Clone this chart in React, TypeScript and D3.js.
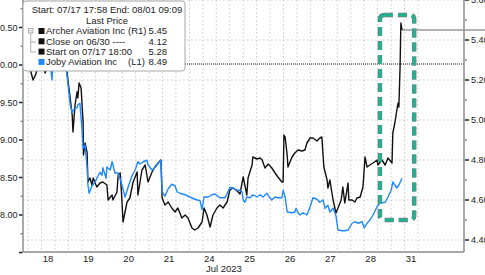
import React from "react";
import * as d3 from "d3";

// ---- data ----
const dayLabels = ["18", "19", "20", "21", "24", "25", "26", "27", "28", "31"];
const dayLabelPos = [0, 1, 2, 3, 4, 5, 6, 7, 8, 9];
const monthLabel = "Jul 2023";
const monthLabelPos = 4.36;

const leftTicks = [8.0, 8.5, 9.0, 9.5, 10.0, 10.5];
const leftMinor = [7.75, 8.25, 8.75, 9.25, 9.75, 10.25, 10.75];
const rightTicks = [4.4, 4.6, 4.8, 5.0, 5.2, 5.4, 5.6];
const rightMinor = [4.5, 4.7, 4.9, 5.1, 5.3, 5.5];

// Archer Aviation (R1) - x in trading-day position, price in USD
const archerDay = [
  -0.52, -0.45, -0.37, -0.3, -0.25, -0.15, -0.07, 0.0, 0.17, 0.25, 0.35, 0.47, 0.55, 0.6, 0.62, 0.67,
  0.72, 0.74, 0.77, 0.82, 0.87, 0.88, 0.92, 0.97, 0.99, 1.04, 1.09, 1.12, 1.21, 1.29, 1.36, 1.46, 1.49,
  1.59, 1.61, 1.71, 1.74, 1.79, 1.83, 1.86, 1.96, 2.03, 2.11, 2.21, 2.23, 2.33, 2.41, 2.48, 2.58, 2.65,
  2.73, 2.8, 2.83, 2.9, 2.98, 3.07, 3.15, 3.22, 3.32, 3.4, 3.47, 3.57, 3.64, 3.72, 3.82, 3.87, 3.94,
  4.02, 4.09, 4.19, 4.26, 4.34, 4.44, 4.51, 4.59, 4.69, 4.76, 4.84, 4.93, 4.96, 5.06, 5.08, 5.18, 5.26,
  5.31, 5.38, 5.46, 5.55, 5.63, 5.7, 5.8, 5.83, 5.85, 5.88, 5.93, 5.95, 6.05, 6.12, 6.2, 6.3, 6.37,
  6.42, 6.5, 6.57, 6.67, 6.74, 6.79, 6.84, 6.92, 6.94, 6.99, 7.04, 7.07, 7.14, 7.19, 7.27, 7.31, 7.36,
  7.44, 7.46, 7.54, 7.61, 7.66, 7.74, 7.81, 7.86, 7.91, 7.98, 8.06, 8.16, 8.18, 8.28, 8.36, 8.43, 8.53,
  8.55, 8.6, 8.65, 8.68, 8.7, 8.73, 8.75, 8.78,
];
const archerPrice = [
  5.28, 5.26, 5.2, 5.23, 5.27, 5.29, 5.235, 5.28, 5.29, 5.25, 5.28, 5.24, 5.11, 5.025, 4.94, 5.075,
  5.14, 5.11, 5.185, 5.16, 4.99, 4.825, 4.885, 4.835, 4.69, 4.71, 4.675, 4.71, 4.665, 4.685, 4.69, 4.675,
  4.6, 4.625, 4.6, 4.64, 4.725, 4.735, 4.61, 4.49, 4.59, 4.61, 4.69, 4.74, 4.625, 4.75, 4.775, 4.69,
  4.74, 4.765, 4.785, 4.8, 4.61, 4.575, 4.59, 4.56, 4.54, 4.56, 4.51, 4.525, 4.51, 4.46, 4.45, 4.46,
  4.49, 4.56, 4.525, 4.465, 4.525, 4.56, 4.575, 4.56, 4.59, 4.65, 4.66, 4.645, 4.63, 4.715, 4.625, 4.71,
  4.775, 4.815, 4.805, 4.81, 4.8, 4.76, 4.78, 4.76, 4.735, 4.715, 4.69, 4.69, 4.925, 4.915, 4.825, 4.765,
  4.815, 4.835, 4.85, 4.845, 4.85, 4.885, 4.91, 4.91, 4.895, 4.91, 4.915, 4.765, 4.7, 4.66, 4.7, 4.635,
  4.6, 4.535, 4.56, 4.6, 4.665, 4.585, 4.685, 4.6, 4.6, 4.59, 4.61, 4.615, 4.665, 4.815, 4.765, 4.775,
  4.785, 4.8, 4.775, 4.8, 4.775, 4.81, 4.785, 4.935, 4.985, 5.05, 5.085, 5.065, 5.265, 5.485, 5.45,
];

// Joby Aviation (L1)
const jobyDay = [
  -0.52, -0.32, -0.15, 0.05, 0.1, 0.12, 0.3, 0.42, 0.47, 0.55, 0.6, 0.62, 0.72, 0.74, 0.79, 0.84, 0.87,
  0.92, 0.97, 0.99, 1.02, 1.09, 1.17, 1.21, 1.29, 1.34, 1.36, 1.44, 1.46, 1.54, 1.59, 1.61, 1.66, 1.74,
  1.83, 1.91, 1.98, 2.08, 2.16, 2.23, 2.28, 2.36, 2.45, 2.48, 2.58, 2.65, 2.73, 2.8, 2.83, 2.9, 2.98,
  3.07, 3.15, 3.2, 3.27, 3.4, 3.52, 3.64, 3.77, 3.82, 3.87, 3.97, 4.07, 4.14, 4.26, 4.39, 4.46, 4.51,
  4.59, 4.69, 4.76, 4.81, 4.84, 4.88, 4.93, 5.01, 5.08, 5.18, 5.26, 5.33, 5.43, 5.5, 5.55, 5.63, 5.7,
  5.8, 5.83, 5.88, 5.93, 6.05, 6.12, 6.15, 6.2, 6.25, 6.32, 6.42, 6.5, 6.57, 6.67, 6.74, 6.82, 6.87,
  6.94, 6.99, 7.07, 7.14, 7.19, 7.29, 7.36, 7.44, 7.54, 7.61, 7.69, 7.79, 7.84, 7.91, 7.98, 8.06, 8.16,
  8.23, 8.36, 8.43, 8.51, 8.55, 8.6, 8.65, 8.7, 8.78,
];
const jobyPrice = [
  10.04, 10.067, 10.04, 10.03, 9.8, 10.01, 10.04, 10.03, 9.87, 9.47, 9.36, 9.4, 9.43, 9.47, 9.49, 9.17,
  8.89, 8.93, 8.63, 8.4, 8.29, 8.39, 8.44, 8.49, 8.57, 8.53, 8.63, 8.49, 8.64, 8.6, 8.71, 8.67, 8.56,
  8.56, 8.41, 8.24, 8.36, 8.52, 8.6, 8.71, 8.68, 8.71, 8.73, 8.67, 8.6, 8.63, 8.69, 8.73, 8.31, 8.25,
  8.35, 8.41, 8.39, 8.31, 8.29, 8.27, 8.24, 8.21, 8.19, 8.07, 8.24, 8.24, 8.27, 8.28, 8.23, 8.23, 8.31,
  8.37, 8.36, 8.33, 8.33, 8.31, 8.2, 8.17, 8.24, 8.23, 8.27, 8.24, 8.27, 8.24, 8.29, 8.23, 8.2, 8.24,
  8.23, 8.23, 8.33, 8.24, 8.04, 8.03, 8.04, 8.09, 8.03, 8.0, 8.03, 8.0, 8.11, 8.23, 8.21, 8.17, 8.2,
  8.09, 8.13, 8.04, 8.09, 7.99, 7.8, 7.79, 7.79, 7.8, 7.89, 7.91, 7.89, 7.91, 7.83, 7.89, 7.93, 8.0,
  8.11, 8.16, 8.17, 8.24, 8.33, 8.44, 8.4, 8.36, 8.4, 8.49,
];

const startPrice = 5.28;
const lastPrice = 5.45;
const lastDay = 8.78;
const boxDayStart = 8.23;
const boxDayEnd = 9.08;
const boxTop = 5.525;
const boxBottom = 4.5;

const legendNames = ["Archer Aviation Inc", "Close on 06/30 ----", "Start on 07/17 18:00", "Joby Aviation Inc"];
const legendTags = ["(R1)", "", "", "(L1)"];
const legendValues = ["5.45", "4.12", "5.28", "8.49"];
const legendColors = ["#111111", "#111111", "#111111", "#1e88ff"];

// ---- layout ----
const W = 485;
const H = 275;
const L = 23;
const R = 464;
const T = 0;
const B = 252;
const FONT = "'Liberation Sans', Arial, sans-serif";

export default function App() {
  const x = d3.scaleLinear().domain([-0.62, 10.315]).range([L, R]);
  const yL = d3.scaleLinear().domain([7.5067, 10.8667]).range([B, T]);
  const yR = d3.scaleLinear().domain([4.34, 5.6]).range([B, T]);

  const archer = archerDay.map((d, i) => [d, archerPrice[i]] as [number, number]);
  const joby = jobyDay.map((d, i) => [d, jobyPrice[i]] as [number, number]);
  const archerPath = d3.line<[number, number]>().x((d) => x(d[0])).y((d) => yR(d[1]))(archer) || "";
  const jobyPath = d3.line<[number, number]>().x((d) => x(d[0])).y((d) => yL(d[1]))(joby) || "";

  const vGrid = d3.range(-1, 29).map((k) => -0.16 + k / 3);

  return (
    <svg
      width={W}
      height={H}
      style={{ position: "absolute", left: 0, top: 0, background: "#fff" }}
      fontFamily={FONT}
    >
      <rect x={0} y={0} width={W} height={H} fill="#fff" />
      <defs>
        <clipPath id="plot">
          <rect x={L} y={T} width={R - L} height={B - T} />
        </clipPath>
      </defs>
      {/* grid */}
      {vGrid.map((d, i) => (
        <line key={"vg" + i} x1={x(d)} x2={x(d)} y1={T} y2={B} stroke="#c9c9c9" strokeWidth={1} strokeDasharray="1.5,2.5" />
      ))}
      {rightTicks.map((v, i) => (
        <line key={"hg" + i} x1={L} x2={R} y1={yR(v)} y2={yR(v)} stroke="#c9c9c9" strokeWidth={1} strokeDasharray="1.5,2.5" />
      ))}
      {/* start price reference */}
      <line x1={L} x2={R} y1={yR(startPrice)} y2={yR(startPrice)} stroke="#111" strokeWidth={1} strokeDasharray="1,1" />
      {/* series */}
      <g clipPath="url(#plot)">
        <path d={archerPath} fill="none" stroke="#111" strokeWidth={1.4} strokeLinejoin="round" />
        <path d={jobyPath} fill="none" stroke="#1e88ff" strokeWidth={1.4} strokeLinejoin="round" />
      </g>
      {/* last price line */}
      <line x1={x(lastDay)} x2={W} y1={yR(lastPrice)} y2={yR(lastPrice)} stroke="#666" strokeWidth={1.2} />
      {/* axes */}
      <line x1={L} x2={L} y1={T} y2={B} stroke="#8c8c8c" strokeWidth={1.5} />
      <line x1={R} x2={R} y1={T} y2={B} stroke="#8c8c8c" strokeWidth={1.5} />
      <line x1={L} x2={R} y1={B} y2={B} stroke="#8c8c8c" strokeWidth={1.5} />
      {/* left ticks */}
      {[7.5, ...leftTicks, 11.0].map((v, i) => (
        <line key={"lt" + i} x1={19} x2={22.5} y1={yL(v)} y2={yL(v)} stroke="#222" strokeWidth={1.5} />
      ))}
      {leftMinor.map((v, i) => (
        <line key={"lm" + i} x1={20.5} x2={22.5} y1={yL(v)} y2={yL(v)} stroke="#555" strokeWidth={1} />
      ))}
      {leftTicks.map((v, i) => (
        <text key={"ll" + i} x={17.5} y={yL(v) + 3.2} fontSize={9} textAnchor="end" fill="#222">
          {v.toFixed(2)}
        </text>
      ))}
      {/* right ticks */}
      {rightTicks.map((v, i) => (
        <line key={"rt" + i} x1={465} x2={469} y1={yR(v)} y2={yR(v)} stroke="#222" strokeWidth={1.5} />
      ))}
      {rightMinor.map((v, i) => (
        <line key={"rm" + i} x1={465} x2={467} y1={yR(v)} y2={yR(v)} stroke="#555" strokeWidth={1} />
      ))}
      {rightTicks.map((v, i) => (
        <text key={"rl" + i} x={471} y={yR(v) + 3.2} fontSize={9} fill="#222">
          {v.toFixed(2)}
        </text>
      ))}
      {/* x labels */}
      {dayLabels.map((lab, i) => (
        <text key={"xl" + i} x={x(dayLabelPos[i])} y={262} fontSize={9.5} textAnchor="middle" fill="#222">
          {lab}
        </text>
      ))}
      <text x={x(monthLabelPos)} y={272} fontSize={9.5} textAnchor="middle" fill="#222">
        {monthLabel}
      </text>
      {/* highlight box */}
      <rect
        x={x(boxDayStart)}
        y={yR(boxTop)}
        width={x(boxDayEnd) - x(boxDayStart)}
        height={yR(boxBottom) - yR(boxTop)}
        rx={4}
        fill="none"
        stroke="#7a7a7a"
        strokeWidth={4.5}
        strokeDasharray="9,5"
      />
      <rect
        x={x(boxDayStart)}
        y={yR(boxTop)}
        width={x(boxDayEnd) - x(boxDayStart)}
        height={yR(boxBottom) - yR(boxTop)}
        rx={4}
        fill="none"
        stroke="#1fb394"
        strokeWidth={3.2}
        strokeDasharray="9,5"
      />
      {/* legend */}
      <rect x={23} y={1} width={162} height={70} rx={3} fill="#fff" stroke="#a8a8a8" strokeWidth={1} />
      <text x={107} y={13} fontSize={9.5} textAnchor="middle" fill="#222">
        Start: 07/17 17:58 End: 08/01 09:09
      </text>
      <text x={107} y={23.5} fontSize={9.5} textAnchor="middle" fill="#222">
        Last Price
      </text>
      <rect x={28.5} y={28.5} width={4.5} height={4.5} fill="#fff" stroke="#999" strokeWidth={0.8} />
      <line x1={29.5} x2={32} y1={30.75} y2={30.75} stroke="#999" strokeWidth={0.8} />
      <line x1={30.75} x2={30.75} y1={33} y2={52} stroke="#999" strokeWidth={0.8} />
      <line x1={30.75} x2={36} y1={42} y2={42} stroke="#999" strokeWidth={0.8} />
      <line x1={30.75} x2={36} y1={52} y2={52} stroke="#999" strokeWidth={0.8} />
      {legendNames.map((name, i) => {
        const cy = 31 + i * 10.3;
        return (
          <g key={"lg" + i}>
            <rect x={38.5} y={cy - 3} width={6} height={6} fill={legendColors[i]} />
            <text x={46} y={cy + 3.4} fontSize={9.5} fill="#222">
              {name}
            </text>
            {legendTags[i] && (
              <text x={128} y={cy + 3.4} fontSize={9.5} fill="#222">
                {legendTags[i]}
              </text>
            )}
            <text x={167} y={cy + 3.4} fontSize={9.5} textAnchor="end" fill="#222">
              {legendValues[i]}
            </text>
          </g>
        );
      })}
    </svg>
  );
}
